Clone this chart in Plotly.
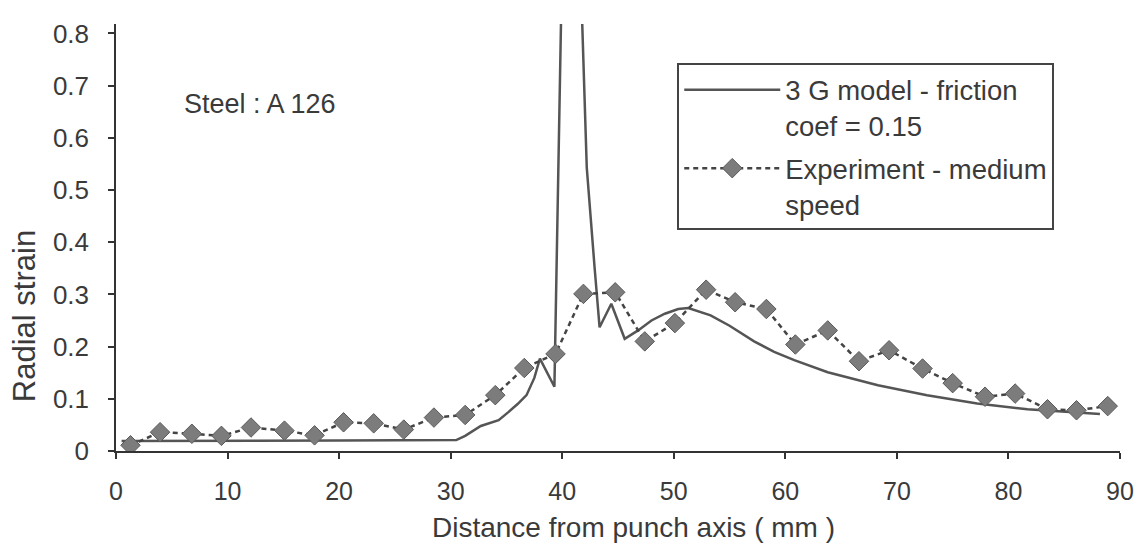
import plotly.graph_objects as go

# ---- data ----
model_x = [0.5, 10.0, 20.0, 30.5, 31.3, 32.7, 34.3, 35.2, 36.0, 36.8, 37.5, 38.0, 39.3,
           40.0, 40.8, 41.6, 42.2, 42.9, 43.35, 44.4, 45.6, 46.8, 48.0, 49.2, 50.4, 51.3,
           53.3, 55.0, 57.2, 59.0, 60.8, 63.8, 68.3, 72.7, 77.2, 81.7, 86.1, 88.2]
model_y = [0.019, 0.019, 0.020, 0.021, 0.029, 0.048, 0.059, 0.075, 0.090, 0.107, 0.140, 0.177, 0.123,
           0.95, 1.20, 0.95, 0.543, 0.352, 0.237, 0.282, 0.215, 0.231, 0.250, 0.263, 0.272, 0.274,
           0.260, 0.240, 0.210, 0.190, 0.174, 0.151, 0.126, 0.107, 0.091, 0.080, 0.073, 0.071]

exp_x = [1.3, 3.95, 6.8, 9.45, 12.1, 15.1, 17.8, 20.4, 23.1, 25.8, 28.5, 31.3, 34.0, 36.6,
         39.4, 41.9, 44.75, 47.4, 50.1, 52.9, 55.5, 58.3, 60.9, 63.8, 66.6, 69.3, 72.3, 75.0,
         77.9, 80.6, 83.5, 86.1, 88.9]
exp_y = [0.011, 0.036, 0.033, 0.029, 0.045, 0.039, 0.030, 0.055, 0.053, 0.041, 0.064, 0.069,
         0.107, 0.159, 0.186, 0.301, 0.304, 0.210, 0.245, 0.309, 0.285, 0.272, 0.204, 0.231,
         0.172, 0.193, 0.158, 0.130, 0.104, 0.110, 0.080, 0.078, 0.086]

x_ticks = [0, 10, 20, 30, 40, 50, 60, 70, 80, 90]
y_ticks = [0, 0.1, 0.2, 0.3, 0.4, 0.5, 0.6, 0.7, 0.8]
y_ticktext = ["0", "0.1", "0.2", "0.3", "0.4", "0.5", "0.6", "0.7", "0.8"]

FONT = "Liberation Sans, Arial, sans-serif"
TXT = "#3a3a3a"
AX = "#333333"

fig = go.Figure()
fig.add_trace(go.Scatter(
    x=model_x, y=model_y, mode="lines", legendgroup="model",
    name="3 G model - friction<br>coef = 0.15",
    line=dict(color="#555555", width=2.5),
))
fig.add_trace(go.Scatter(
    x=exp_x, y=exp_y, mode="lines+markers", legendgroup="exp",
    name="Experiment - medium<br>speed",
    line=dict(color="#444444", width=2.5, dash="5px,4px"),
    marker=dict(symbol="diamond", size=15, color="#7c7c7c",
                line=dict(color="#5a5a5a", width=1)),
))

xr = [0, 90]
yr = [0, 0.818]

fig.update_layout(
    width=1148, height=547,
    margin=dict(l=116, r=28, t=24, b=96),
    paper_bgcolor="white", plot_bgcolor="white",
    font=dict(family=FONT, color=TXT, size=24),
    showlegend=True,
    legend=dict(
        x=0.559, y=0.908, xanchor="left", yanchor="top",
        bgcolor="white", bordercolor="#444444", borderwidth=2,
        font=dict(size=27.5, color=TXT, family=FONT),
        itemwidth=96, valign="top", tracegroupgap=4,
    ),
    xaxis=dict(
        range=xr, tickvals=x_ticks, ticks="outside", ticklen=6, tickwidth=1.5,
        tickcolor=AX, showline=True, linecolor=AX, linewidth=1.5,
        showgrid=False, zeroline=False, ticklabelstandoff=11,
        tickfont=dict(size=25, color=TXT),
    ),
    yaxis=dict(
        range=yr, tickvals=y_ticks, ticktext=y_ticktext, ticks="outside", ticklen=6,
        tickwidth=1.5, tickcolor=AX, showline=True, linecolor=AX, linewidth=1.5,
        showgrid=False, zeroline=False, ticklabelstandoff=14,
        tickfont=dict(size=26, color=TXT),
    ),
    xaxis2=dict(
        range=xr, tickvals=x_ticks, ticks="inside", ticklen=6, tickwidth=1.5,
        tickcolor=AX, showticklabels=False, showline=False, showgrid=False,
        zeroline=False, overlaying="x", anchor="y",
    ),
    yaxis2=dict(
        range=yr, tickvals=y_ticks, ticks="inside", ticklen=6, tickwidth=1.5,
        tickcolor=AX, showticklabels=False, showline=False, showgrid=False,
        zeroline=False, overlaying="y", anchor="x",
    ),
    annotations=[
        dict(text="Steel : A 126", x=5.9, y=0.665, xref="x", yref="y",
             xanchor="left", yanchor="middle", showarrow=False,
             font=dict(size=27, color=TXT, family=FONT)),
        dict(text="Distance from punch axis ( mm )", x=0.515, y=-0.18,
             xref="paper", yref="paper", xanchor="center", yanchor="middle",
             showarrow=False, font=dict(size=28, color=TXT, family=FONT)),
        dict(text="Radial strain", x=-0.091, y=0.315, xref="paper", yref="paper",
             xanchor="center", yanchor="middle", textangle=-90, showarrow=False,
             font=dict(size=31, color=TXT, family=FONT)),
    ],
)

fig.write_html("out.html")
